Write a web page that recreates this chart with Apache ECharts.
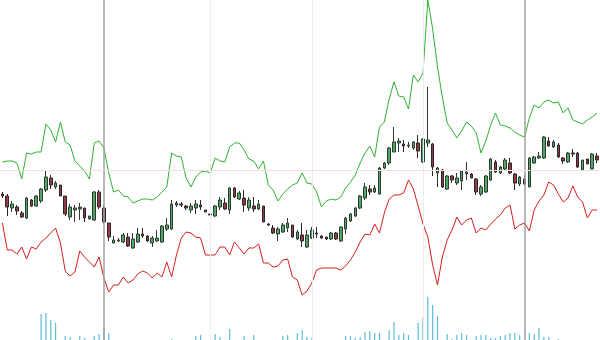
<!DOCTYPE html>
<html>
<head>
<meta charset="utf-8">
<script src="https://cdn.jsdelivr.net/npm/echarts@6/dist/echarts.min.js"></script>
<style>html,body{margin:0;padding:0;background:#fff}#c{width:600px;height:340px}</style>
</head>
<body>
<div id="c"></div>
<script>
const opens = [14.6,14.4,13.2,13.3,12.7,12.2,14.0,13.4,13.9,15.0,16.2,15.3,15.5,14.4,12.3,13.0,13.1,13.2,12.1,12.0,14.8,13.2,11.7,9.7,9.9,9.8,10.3,9.2,9.8,10.6,10.4,9.7,9.9,9.8,11.1,11.1,13.5,13.6,13.4,13.0,13.2,13.5,13.0,12.6,12.4,13.3,13.7,13.0,15.2,14.1,14.2,13.2,13.4,13.1,13.4,11.6,11.2,10.6,10.8,11.2,11.5,10.1,10.5,9.3,10.2,10.7,10.4,10.3,10.1,10.7,9.9,11.1,11.9,12.4,13.2,14.2,15.1,14.8,14.6,17.2,17.7,18.8,19.7,19.6,19.4,19.2,19.7,17.8,19.7,19.6,16.7,17.0,15.1,16.4,15.7,15.9,16.6,16.6,16.1,14.6,14.8,16.0,17.8,16.7,17.1,17.7,16.6,15.6,16.1,15.3,17.7,18.2,18.2,19.9,19.3,19.5,18.2,17.8,18.7,18.7,17.0,18.1,17.1,18.4];
const closes = [14.4,13.3,13.6,12.9,12.3,14.2,13.4,14.4,15.1,16.3,15.5,15.7,14.4,12.6,13.3,13.2,13.3,12.2,12.4,14.8,13.3,11.8,10.3,10.0,10.0,10.5,9.4,10.1,10.6,10.4,9.9,10.2,10.2,11.4,11.5,13.6,13.7,13.5,13.2,13.4,13.6,13.3,12.8,12.5,13.4,14.0,13.1,15.2,14.3,14.7,13.5,14.0,13.1,13.6,11.8,11.5,10.7,11.1,11.5,11.7,10.3,10.8,9.9,10.5,11.0,10.6,10.2,10.1,10.7,10.1,11.3,12.2,12.6,13.2,14.4,15.3,14.8,15.2,17.2,17.7,19.2,19.8,19.9,19.4,19.5,19.8,18.9,20.1,20.0,17.3,17.2,15.3,16.4,16.0,16.2,16.9,16.8,16.2,14.8,15.3,16.4,18.1,16.8,17.3,18.0,16.7,15.7,16.3,15.6,18.2,18.3,18.4,20.3,19.4,19.8,18.3,17.9,18.7,18.6,17.3,18.0,17.6,18.6,18.0];
const lows = [14.2,12.4,12.8,12.5,12.2,12.1,13.3,13.3,13.7,14.8,15.1,15.1,14.4,12.4,12.0,11.8,12.0,11.8,12.1,11.9,13.1,11.6,9.9,9.7,9.8,9.7,9.3,9.1,9.7,10.2,9.8,9.3,9.8,9.7,10.9,11.0,13.3,13.3,13.0,12.7,12.6,13.0,12.8,12.4,12.3,13.0,13.0,12.6,14.2,14.0,12.8,12.9,12.8,13.0,11.8,11.4,10.6,9.9,10.7,10.8,10.2,10.0,9.3,9.2,10.1,10.2,10.1,10.0,10.0,10.0,9.8,10.6,11.8,12.3,13.1,14.0,14.5,14.7,14.5,17.1,17.5,18.8,18.8,18.8,19.2,19.0,18.2,17.7,19.3,16.4,15.3,15.2,15.0,15.7,15.5,15.0,16.0,16.2,14.5,14.4,14.7,15.9,16.7,16.6,16.9,16.6,15.0,15.4,15.5,15.3,17.6,18.1,18.1,19.3,19.2,18.2,17.6,17.7,18.3,17.2,16.9,17.6,17.1,17.7];
const highs = [14.8,14.6,13.9,13.5,12.9,14.3,14.1,14.5,15.2,17.0,16.5,15.9,15.5,14.4,13.6,13.5,13.7,13.2,12.4,14.9,15.0,13.5,11.7,10.4,10.2,10.7,10.7,10.7,11.2,11.2,10.5,10.4,11.0,11.5,12.2,14.0,13.9,13.8,13.5,13.7,14.0,14.0,13.0,12.7,13.5,14.3,14.2,15.3,15.3,14.9,15.0,14.3,14.3,14.0,13.4,11.7,11.5,11.3,11.7,12.2,11.5,11.0,11.7,11.0,11.3,11.3,10.5,10.3,10.8,10.8,11.4,12.3,12.7,13.3,14.5,15.7,15.5,15.5,17.3,17.8,19.3,21.3,20.2,20.0,19.8,19.9,20.5,20.2,25.3,19.7,17.3,17.1,16.5,16.5,16.7,17.0,17.8,16.7,16.2,15.5,16.5,18.2,18.0,17.4,18.2,18.2,16.7,16.4,16.5,18.3,18.4,18.8,20.4,20.3,20.0,19.7,18.3,18.8,19.1,18.8,18.0,18.1,18.7,18.7];
const upperBand = [17.8,17.9,17.9,17.7,16.1,18.7,18.6,18.8,18.8,21.6,21.0,19.8,21.8,19.8,19.5,17.9,17.4,16.9,16.1,19.7,19.9,19.2,16.7,14.8,15.0,14.4,14.3,13.7,13.9,14.1,14.1,14.0,14.3,14.8,15.3,18.7,18.4,18.3,16.2,15.3,16.3,16.8,16.9,16.7,18.2,17.9,17.8,19.3,19.7,19.7,19.0,18.1,17.9,17.1,17.9,15.5,15.0,13.9,14.6,15.1,15.5,15.7,16.7,15.7,15.6,14.8,13.3,13.9,14.1,14.0,14.3,15.2,15.8,16.5,17.7,18.7,19.4,18.3,21.3,21.8,24.1,25.8,24.4,24.3,23.1,26.5,25.8,26.7,34.0,31.1,27.3,24.3,21.7,21.0,20.2,20.9,21.8,21.4,20.7,18.7,19.9,21.5,22.7,21.5,21.4,21.2,20.8,20.5,20.3,22.2,23.5,23.2,23.8,24.0,23.7,23.8,22.7,23.2,22.0,21.8,21.6,22.0,22.3,22.7];
const lowerBand = [11.7,9.0,9.0,8.6,9.3,8.1,9.3,9.1,9.8,10.2,10.7,11.2,9.7,6.9,6.4,6.8,8.9,8.3,7.8,7.3,8.3,6.2,4.8,5.5,5.5,6.3,5.7,6.0,6.6,6.9,6.7,6.2,6.7,6.3,7.8,6.3,8.5,10.2,10.8,10.7,10.3,10.2,8.5,8.5,8.5,9.3,9.3,8.5,9.8,9.2,8.6,9.2,9.2,9.6,7.7,7.7,7.3,7.4,8.0,8.1,6.3,6.0,4.5,4.9,5.7,7.0,7.2,7.2,7.2,7.2,7.0,7.4,8.0,8.8,9.8,10.6,10.5,11.6,10.7,12.7,14.1,14.5,14.5,14.7,16.0,15.1,13.4,11.6,10.3,7.5,5.5,8.3,10.0,11.0,12.3,11.5,12.0,12.2,10.7,11.2,11.0,11.6,12.1,12.5,13.2,13.5,11.1,11.5,11.7,10.9,13.0,13.9,14.5,15.8,15.5,14.6,13.8,14.2,15.4,14.3,13.8,12.2,13.0,13.0];
const volumes = [0,0,0,0,0,0,0,0,2600,2700,2000,1700,0,400,300,0,400,200,0,400,600,1200,700,0,0,0,0,0,0,0,0,0,0,0,0,100,0,0,0,0,400,500,0,0,600,300,0,1100,0,0,400,0,500,0,0,0,0,0,400,500,0,700,1000,300,200,0,0,0,0,0,0,400,400,200,300,800,900,700,700,0,1000,1800,500,700,500,0,1700,2200,4300,3500,2400,0,600,100,500,700,500,0,400,500,500,200,200,400,500,700,700,500,0,700,600,1200,300,300,0,100,0,0,0,0,0,0,0,0];
const monthStarts = [21, 43, 64, 87, 108];
const darkLines = [21, 108];
const refLevel = 17.0;

const categories = opens.map((_, i) => String(i));
const candleData = opens.map((o, i) => [o, closes[i], lows[i], highs[i]]);

const chart = echarts.init(document.getElementById('c'), null, {renderer: 'canvas'});
const gridL = -0.75, gridR = 0.55;
chart.setOption({
  animation: false,
  backgroundColor: '#ffffff',
  grid: [
    {left: gridL, right: gridR, top: 0, bottom: 0},
    {left: gridL, right: gridR, top: 240, bottom: 0}
  ],
  xAxis: [
    {type: 'category', data: categories, gridIndex: 0, show: false, boundaryGap: true},
    {type: 'category', data: categories, gridIndex: 1, show: false, boundaryGap: true}
  ],
  yAxis: [
    {type: 'value', gridIndex: 0, min: 0, max: 34, show: false, splitLine: {show: false}},
    {type: 'value', gridIndex: 1, min: 0, max: 10000, show: false, splitLine: {show: false}}
  ],
  series: [
    {
      type: 'line', xAxisIndex: 0, yAxisIndex: 0, data: [], z: 1, silent: true,
      markLine: {
        silent: true, symbol: 'none', label: {show: false}, animation: false,
        data: monthStarts.map(i => ({
          xAxis: categories[i],
          lineStyle: darkLines.includes(i)
            ? {color: '#a0a0a0', width: 1.5, type: 'solid'}
            : {color: '#ececec', width: 1, type: 'solid'}
        })).concat([{yAxis: refLevel, lineStyle: {color: '#f5dcdc', width: 1, type: 'solid'}}])
      }
    },
    {
      type: 'bar', xAxisIndex: 1, yAxisIndex: 1, data: volumes, barWidth: 1.2,
      itemStyle: {color: '#5bbcd6'}, z: 2
    },
    {
      type: 'candlestick', xAxisIndex: 0, yAxisIndex: 0, data: candleData, barWidth: '64%', z: 3,
      itemStyle: {
        color: '#4fa766', color0: '#8e3d48',
        borderColor: '#2e3a30', borderColor0: '#2e2626', borderWidth: 1
      }
    },
    {
      type: 'line', xAxisIndex: 0, yAxisIndex: 0, data: upperBand, symbol: 'none', z: 4,
      lineStyle: {color: '#2fb22f', width: 1}
    },
    {
      type: 'line', xAxisIndex: 0, yAxisIndex: 0, data: lowerBand, symbol: 'none', z: 4,
      lineStyle: {color: '#d41e1e', width: 1}
    }
  ]
});
</script>
</body>
</html>
